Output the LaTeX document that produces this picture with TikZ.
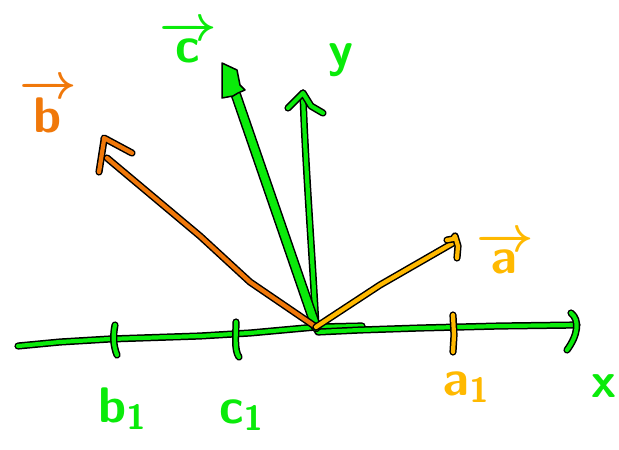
\RequirePackage{fix-cm}
\documentclass[tikz,border=0pt]{standalone}
\definecolor{gC}{RGB}{10,235,10}
\definecolor{oC}{RGB}{240,120,10}
\definecolor{yC}{RGB}{255,185,0}
\tikzset{
  stk/.style={draw=black, line width=1.5pt, double distance=4.2pt, line cap=round, line join=round},
  gstk/.style={stk, double=gC},
  ostk/.style={stk, double=oC},
  ystk/.style={stk, double=yC},
  lbl/.style={inner sep=0pt, font=\fontsize{50}{56}\selectfont\boldmath, anchor=base west},
}
\begin{document}
\begin{tikzpicture}[x=1pt,y=-1pt]
\useasboundingbox (0,0) rectangle (619,450);
% key points
\coordinate (O) at (316,327);
\coordinate (xl) at (18,346);
\coordinate (xr) at (577,325);
\coordinate (ytip) at (303,93);
\coordinate (ctip) at (236,95);
\coordinate (btip) at (104,140);
\coordinate (atip) at (453,239);
% x axis
\draw[gstk] (xl) -- (60,342) -- (110,339) -- (200,336) -- (250,333) -- (O) -- (362,326);
\draw[gstk] (O) -- (318,332) -- (360,330) -- (420,328) -- (500,326) -- (xr);
\draw[gstk] (571,313) .. controls (580,320) and (578,335) .. (567,350);
% ticks
\draw[gstk] (115,325) .. controls (113,335) and (113,345) .. (117,355);
\draw[gstk] (236,322) .. controls (236,335) and (234,350) .. (239,357);
% y axis
\draw[gstk] (O) .. controls (312,250) and (305,160) .. (ytip);
\draw[gstk] (288,108) -- (ytip) -- (311,106) -- (323,113);
% vector c (thick)
\draw[draw=black, line width=1.5pt, double=gC, double distance=7.5pt, line cap=round] (O) -- (ctip);
\fill[gC, draw=black, line width=1.5pt, line join=round] (222,63) -- (237,70) -- (240,85) -- (245,90) -- (238,93) -- (233,96) -- (222,98) -- cycle;
% vector b
\draw[ostk] (O) -- (250,282) -- (200,236) -- (107,158);
\draw[ostk] (99,172) -- (btip) -- (104,138) -- (132,153);
% vector a
\draw[ystk] (O) -- (380,285) -- (453,243);
\draw[ystk] (447,240) -- (atip) -- (455,236) -- (458,246) -- (457,258);
% a1 tick
\draw[ystk] (453,315) -- (454,335) -- (453,352);
% labels
\node[lbl, text=gC] (lc) at (159,62) {$\overrightarrow{\mathsf{c}}$};
\node[lbl, text=oC] (lb) at (19,132) {$\overrightarrow{\mathsf{b}}$};
\node[lbl, text=yC] (la) at (476,273) {$\overrightarrow{\mathsf{a}}$};
\node[lbl, text=gC] (ly) at (328,66) {$\mathsf{y}$};
\node[lbl, text=gC] (lx) at (591,397) {$\mathsf{x}$};
\node[lbl, text=gC] (lb1) at (98,422) {$\mathsf{b}_{\mathsf{1}}$};
\node[lbl, text=gC] (lc1) at (219,423) {$\mathsf{c}_{\mathsf{1}}$};
\node[lbl, text=yC] (la1) at (443,395) {$\mathsf{a}_{\mathsf{1}}$};
\end{tikzpicture}
\end{document}
